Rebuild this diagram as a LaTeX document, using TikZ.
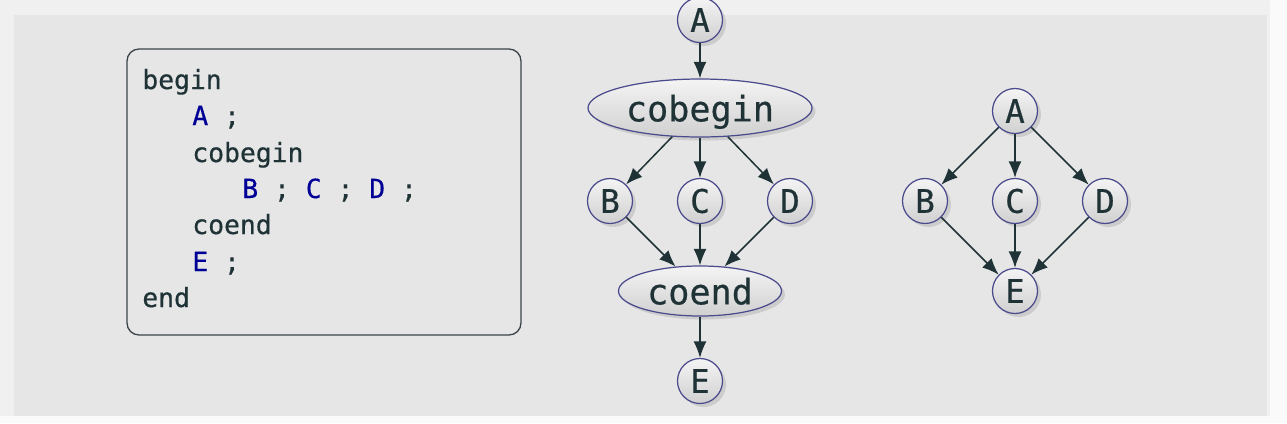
\documentclass[tikz,border=0pt]{standalone}
\usepackage{fontspec}
\setmonofont[FakeBold=0.5]{DejaVu Sans Mono}
\usetikzlibrary{arrows.meta,shadows,shapes.geometric}

\definecolor{inkdark}{HTML}{1F3337}
\definecolor{codeblue}{HTML}{000096}
\definecolor{rimblue}{HTML}{4A4A8C}
\definecolor{boxline}{HTML}{3C4649}
\definecolor{shadetop}{HTML}{F4F4F4}
\definecolor{shadebot}{HTML}{D0D0D0}
\definecolor{panelgray}{HTML}{E6E6E6}
\definecolor{bandgray}{HTML}{F0F0F0}
\definecolor{pagewhite}{HTML}{FAFAFA}

\begin{document}
\begin{tikzpicture}[x=0.2mm, y=-0.2mm,
    every node/.style={font=\ttfamily, text=inkdark},
    task/.style={circle, draw=rimblue, line width=0.7pt, top color=shadetop, bottom color=shadebot,
        minimum size=9mm, inner sep=0pt, font=\ttfamily\fontsize{18.5}{18.5}\selectfont,
        drop shadow={shadow xshift=0.7mm, shadow yshift=-0.7mm, opacity=0.25}},
    ctl/.style={ellipse, draw=rimblue, line width=0.7pt, top color=shadetop, bottom color=shadebot,
        inner sep=0pt, text depth=0pt, font=\ttfamily\fontsize{20}{20}\selectfont,
        drop shadow={shadow xshift=0.7mm, shadow yshift=-0.7mm, opacity=0.25}},
    flow/.style={-{Latex[length=3.3mm,width=2.6mm]}, draw=inkdark, line width=0.85pt},
    codebox/.style={rectangle, rounded corners=2.4mm, draw=boxline, line width=0.75pt,
        minimum width=78.8mm, minimum height=57.2mm},
    codeline/.style={anchor=base west, inner sep=0pt, font=\ttfamily\fontsize{15}{15}\selectfont}]

    \useasboundingbox (0,0) rectangle (1287,423);

    % page and panel
    \fill[pagewhite] (0,0) rectangle (1287,423);
    \fill[bandgray] (0,0) rectangle (1270,416);
    \fill[panelgray] (14,15) rectangle (1267,416);

    % program text
    \node[codebox] (prog) at (324,192) {};
    \node[codeline] (l1) at (142,89) {begin};
    \node[codeline] (l2) at (192,125) {\textcolor{codeblue}{A} ;};
    \node[codeline] (l3) at (192,162) {cobegin};
    \node[codeline] (l4) at (242,198) {\textcolor{codeblue}{B} ; \textcolor{codeblue}{C} ; \textcolor{codeblue}{D} ;};
    \node[codeline] (l5) at (192,234) {coend};
    \node[codeline] (l6) at (192,271) {\textcolor{codeblue}{E} ;};
    \node[codeline] (l7) at (142,307) {end};

    % cobegin / coend graph
    \node[task] (a1) at (700,20) {A};
    \node[ctl, minimum width=44.8mm, minimum height=11.6mm] (cob) at (700,108) {cobegin};
    \node[task] (b1) at (610,201) {B};
    \node[task] (c1) at (700,201) {C};
    \node[task] (d1) at (790,201) {D};
    \node[ctl, minimum width=32.6mm, minimum height=10mm] (coe) at (700,291) {coend};
    \node[task] (e1) at (700,381) {E};

    \draw[flow] (a1) -- (cob);
    \draw[flow] (cob) -- (b1);
    \draw[flow] (cob) -- (c1);
    \draw[flow] (cob) -- (d1);
    \draw[flow] (b1) -- (coe);
    \draw[flow] (c1) -- (coe);
    \draw[flow] (d1) -- (coe);
    \draw[flow] (coe) -- (e1);

    % precedence graph
    \node[task] (a2) at (1015,111) {A};
    \node[task] (b2) at (925,201) {B};
    \node[task] (c2) at (1015,201) {C};
    \node[task] (d2) at (1105,201) {D};
    \node[task] (e2) at (1015,291) {E};

    \draw[flow] (a2) -- (b2);
    \draw[flow] (a2) -- (c2);
    \draw[flow] (a2) -- (d2);
    \draw[flow] (b2) -- (e2);
    \draw[flow] (c2) -- (e2);
    \draw[flow] (d2) -- (e2);

\end{tikzpicture}
\end{document}
